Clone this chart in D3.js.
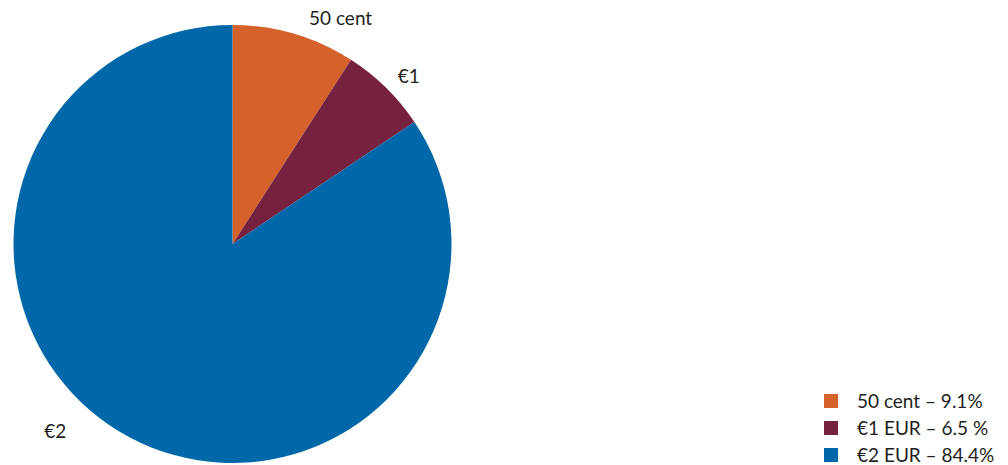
<!DOCTYPE html>
<html>
<head>
<meta charset="utf-8">
<script src="https://cdn.jsdelivr.net/npm/d3@7"></script>
<style>
  body { margin: 0; background: #fff; }
  svg { display: block; font-family: Lato, "Noto Sans", sans-serif; }
  text { fill: #231f20; }
</style>
</head>
<body>
<svg width="1008" height="465"></svg>
<script>
// data
let categories = ["50 cent", "€1", "€2"];
let shares = [9.1, 6.5, 84.4];
let legendLabels = ["50 cent – 9.1%", "€1 EUR – 6.5 %", "€2 EUR – 84.4%"];
let colors = ["#d4622a", "#76213f", "#0067a9"];

let width = 1008, height = 465;
let cx = 232.5, cy = 244, radius = 219;

let svg = d3.select("svg");

let color = d3.scaleOrdinal().domain(categories).range(colors);

let pie = d3.pie().sort(null).value(function (d, i) {
  return shares[i];
});
let arcs = pie(categories);

let arc = d3.arc().innerRadius(0).outerRadius(radius);

let g = svg.append("g").attr("transform", "translate(" + cx + "," + cy + ")");

g.selectAll("path")
  .data(arcs)
  .enter()
  .append("path")
  .attr("d", arc)
  .attr("fill", function (d) {
    return color(d.data);
  });

// data labels, placed at the mid-angle outside the pie
let labelR = 236;
g.selectAll("text.label")
  .data(arcs)
  .enter()
  .append("text")
  .classed("label", true)
  .style("font-size", "19px")
  .attr("dominant-baseline", "central")
  .each(function (d) {
    let a = (d.startAngle + d.endAngle) / 2;
    let x = Math.sin(a) * labelR;
    let y = -Math.cos(a) * labelR;
    let anchor = x >= 0 ? "start" : "middle";
    // labels that would fall off the bottom slide up along a wider circle
    if (cy + y > height - 40) {
      let r2 = 257;
      y = height - 35 - cy;
      x = -Math.sqrt(r2 * r2 - y * y);
    }
    if (x >= 0 && y < -200) x += 10;
    d3.select(this)
      .attr("x", x)
      .attr("y", y)
      .attr("text-anchor", anchor)
      .text(d.data);
  });

// legend
let legend = svg
  .append("g")
  .attr("transform", "translate(824, 394)")
  .selectAll("g")
  .data(categories)
  .enter()
  .append("g")
  .attr("transform", function (d, i) {
    return "translate(0," + i * 27 + ")";
  });

legend
  .append("rect")
  .attr("width", 14)
  .attr("height", 14)
  .attr("fill", function (d) {
    return color(d);
  });

legend
  .append("text")
  .attr("x", 33)
  .attr("y", 14)
  .style("font-size", "19px")
  .text(function (d, i) {
    return legendLabels[i];
  });
</script>
</body>
</html>
